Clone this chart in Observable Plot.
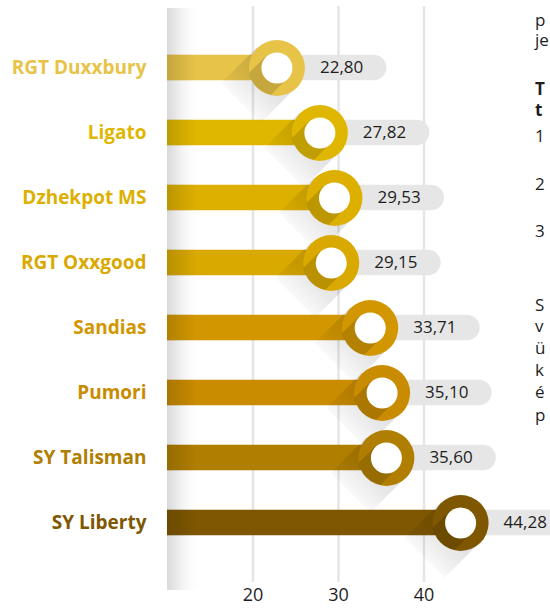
<!DOCTYPE html>
<html><head><meta charset="utf-8">
<script src="https://cdn.jsdelivr.net/npm/d3@7"></script>
<script src="https://cdn.jsdelivr.net/npm/@observablehq/plot@0.6"></script>
<style>
body{margin:0;background:#fff;width:550px;height:609px;overflow:hidden;position:relative;font-family:"Open Sans",sans-serif}
#side div{position:absolute;left:535px;font-size:17px;line-height:18px;color:#1e1e1e;white-space:pre}
</style></head><body>
<div id="chart"></div>
<div id="side"></div>
<script>
// ---- data ----
const varieties = ["RGT Duxxbury","Ligato","Dzhekpot MS","RGT Oxxgood","Sandias","Pumori","SY Talisman","SY Liberty"];
const values = [22.80, 27.82, 29.53, 29.15, 33.71, 35.10, 35.60, 44.28];
const xTicks = [20, 30, 40];
const palette = ["#e7c348","#e0b700","#ddb000","#d9a900","#d29700","#c98b00","#b07e00","#7e5700"];
// cut-off text of neighbouring column
const sideText = ["p\nje","T","t","1","2","3","S","v","ü","k","é","p"];
const sideBold = [false,true,true,false,false,false,false,false,false,false,false,false];
const sideTop = [10,80,101,127,175,222,296,317,339,361,383,406];

const data = varieties.map((v,i)=>({variety:v, value:values[i]}));
const fmt = v => v.toFixed(2).replace(".", ",");

// ---- layout constants ----
const W=550, H=609, mL=167, mR=41, mT=33, mB=52;
const R=28, r=15.5, barH=26, pillPx=110, shadowL=50;
const step=(H-mT-mB)/varieties.length, inset=(step-barH)/2;
const pxPerUnit=(W-mL-mR)/40;
const ns="http://www.w3.org/2000/svg";
function el(tag, attrs){const e=document.createElementNS(ns,tag); for(const k in attrs) e.setAttribute(k, attrs[k]); return e;}
function bw(s){ if(!s || s.bandwidth==null) return 0; return typeof s.bandwidth==="function" ? s.bandwidth() : s.bandwidth; }
function stops(grad, list){ list.forEach(([o,c,a])=>grad.appendChild(el("stop",{offset:o,"stop-color":c,"stop-opacity":a}))); return grad; }

const defsMark = () => {
  const g = el("g",{}); const defs = el("defs",{}); g.appendChild(defs);
  defs.appendChild(stops(el("linearGradient",{id:"stripGrad",x1:0,y1:0,x2:1,y2:0}),
    [[0,"#d9d9d9",1],[0.35,"#eeeeee",1],[1,"#ffffff",0]]));
  defs.appendChild(stops(el("linearGradient",{id:"barShade",x1:0,y1:0,x2:1,y2:0}),
    [[0,"#000",0.15],[1,"#000",0]]));
  return g;
};

const leftStrip = (index, {x}, v, {height, marginTop, marginBottom}) => {
  const g = el("g",{});
  g.appendChild(el("rect",{x:x(10), y:marginTop-25, width:34, height:height-marginTop-marginBottom+58, fill:"url(#stripGrad)"}));
  return g;
};

const barShade = (index, {x, y}) => {
  const g = el("g",{});
  data.forEach(d=>{
    const cy = y(d.variety)+bw(y)/2;
    g.appendChild(el("rect",{x:x(10), y:cy-barH/2, width:30, height:barH, fill:"url(#barShade)"}));
  });
  return g;
};

const longShadows = (index, {x, y}) => {
  const g = el("g",{}); const s=Math.SQRT1_2; const defs=el("defs",{}); g.appendChild(defs);
  data.forEach((d,i)=>{
    const cx=x(d.value), cy=y(d.variety)+bw(y)/2;
    const grad = stops(el("linearGradient",{id:"lg"+i, gradientUnits:"userSpaceOnUse", x1:cx, y1:cy, x2:cx-shadowL*s-R*s*0.3, y2:cy+shadowL*s+R*s*0.3}),
      [[0,"#000",0.13],[0.45,"#000",0.09],[1,"#000",0]]);
    defs.appendChild(grad);
    const p=[[cx-R*s,cy-R*s],[cx+R*s,cy+R*s],[cx+R*s-shadowL*s,cy+R*s+shadowL*s],[cx-R*s-shadowL*s,cy-R*s+shadowL*s]];
    g.appendChild(el("polygon",{points:p.map(q=>q.join(",")).join(" "), fill:`url(#lg${i})`}));
  });
  return g;
};

const holeShadows = (index, {x, y}) => {
  const g = el("g",{}); const s=Math.SQRT1_2; const defs=el("defs",{}); g.appendChild(defs);
  data.forEach((d,i)=>{
    const cx=x(d.value), cy=y(d.variety)+bw(y)/2;
    const cp=el("clipPath",{id:"ringclip"+i}); cp.appendChild(el("circle",{cx,cy,r:R})); defs.appendChild(cp);
    const L=R+10;
    const p=[[cx-r*s,cy-r*s],[cx+r*s,cy+r*s],[cx+r*s-L*s,cy+r*s+L*s],[cx-r*s-L*s,cy-r*s+L*s]];
    g.appendChild(el("polygon",{points:p.map(q=>q.join(",")).join(" "), fill:"#000","fill-opacity":0.14,"clip-path":`url(#ringclip${i})`}));
  });
  return g;
};

const chart = Plot.plot({
  width: W, height: H,
  marginLeft: mL, marginRight: mR, marginTop: mT, marginBottom: mB,
  x: {domain:[10,50], axis:null},
  y: {domain: varieties, padding:0, axis:null},
  color: {type:"ordinal", domain: varieties, range: palette},
  style: {background:"#fff", fontFamily:"'Open Sans', sans-serif", overflow:"visible"},
  marks: [
    defsMark,
    leftStrip,
    Plot.ruleX(xTicks, {x:d=>d, stroke:"#e5e5e5", strokeWidth:2.5, insetTop:-27, insetBottom:-25}),
    Plot.barX(data, {x1:"value", x2:d=>d.value+pillPx/pxPerUnit, y:"variety", fill:"#e6e6e6", rx:13, insetTop:inset, insetBottom:inset}),
    Plot.barX(data, {x1:10, x2:"value", y:"variety", fill:"variety", insetTop:inset, insetBottom:inset}),
    barShade,
    longShadows,
    Plot.dot(data, {x:"value", y:"variety", r:R, fill:"variety", stroke:null}),
    holeShadows,
    Plot.dot(data, {x:"value", y:"variety", r:r, fill:"#fff", stroke:null}),
    Plot.text(data, {x:"value", y:"variety", text:d=>fmt(d.value), dx:43, textAnchor:"start", fontSize:17, fill:"#1e1e1e"}),
    Plot.text(data, {x:10, y:"variety", text:"variety", dx:-21, textAnchor:"end", fontSize:19, fontWeight:"bold", fill:"variety"}),
    Plot.text(xTicks, {x:d=>d, frameAnchor:"bottom", dy:43, text:d=>String(d), fontSize:18, fill:"#1e1e1e"})
  ]
});
document.getElementById("chart").appendChild(chart);

const side = document.getElementById("side");
sideText.forEach((t,i)=>{
  const dv = document.createElement("div");
  dv.textContent = t;
  dv.style.top = sideTop[i]+"px";
  if (i===0) dv.style.lineHeight = "20px";
  if (sideBold[i]) dv.style.fontWeight = "bold";
  side.appendChild(dv);
});
</script>
</body></html>
